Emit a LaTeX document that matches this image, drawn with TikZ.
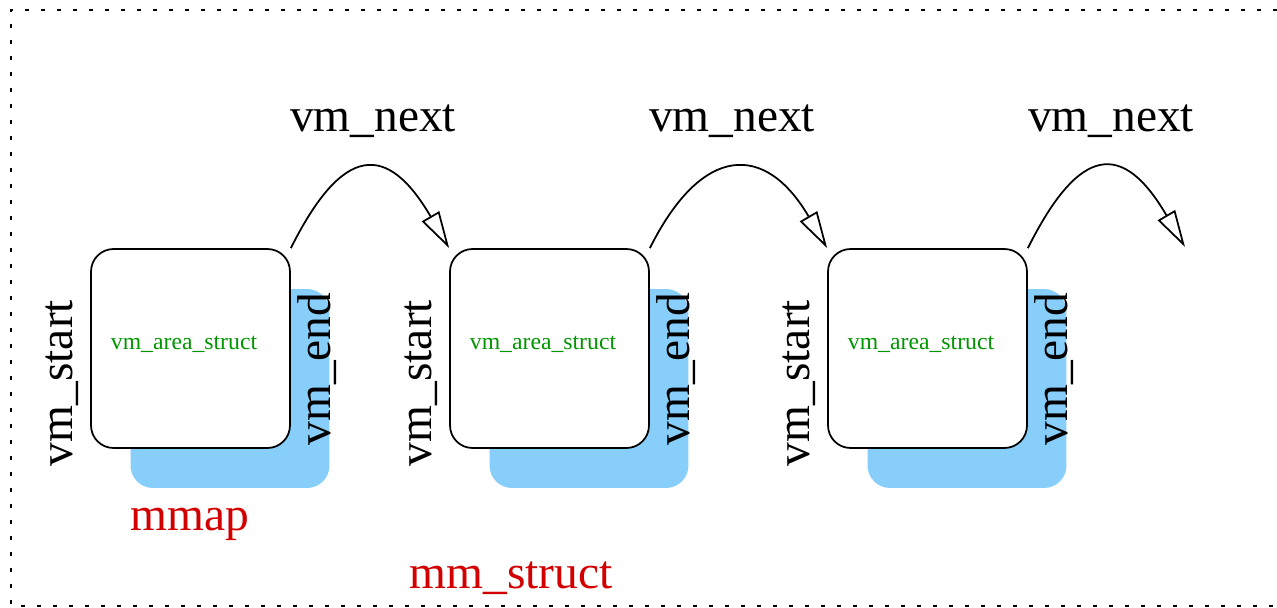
\documentclass[tikz,border=0pt]{standalone}
\usepackage{fontspec}
\setmainfont{Liberation Serif}
\usetikzlibrary{arrows.meta}
\definecolor{skyb}{RGB}{135,206,250}
\definecolor{fgreen}{RGB}{0,150,0}
\definecolor{fred}{RGB}{210,0,0}
\tikzset{
  whitebox/.style={draw=black, fill=white, line width=1pt, rounded corners=0.45cm,
    minimum width=3.98cm, minimum height=3.98cm, inner sep=0pt},
  bluebox/.style={fill=skyb, rounded corners=0.45cm,
    minimum width=3.98cm, minimum height=3.98cm, inner sep=0pt},
  big/.style={font=\fontsize{27}{30}\selectfont, inner sep=0pt, anchor=base},
  redlbl/.style={big, text=fred},
  rot/.style={big, rotate=90},
  greenlbl/.style={font=\fontsize{13.5}{15}\selectfont, text=fgreen, inner sep=0pt, anchor=base},
  nextarr/.style={line width=1pt, -{Triangle[open, length=0.74cm, width=0.4cm, line width=1pt]}},
  border/.style={line width=0.04cm, dash pattern=on 0.08cm off 0.24cm}
}
\begin{document}
\begin{tikzpicture}[x=0.02cm, y=-0.02cm]
\useasboundingbox (0,0) rectangle (1277,608);
\draw[border] (1277,10.5) -- (11,10.5) -- (11,606) -- (1277,606);
% blue shadows
\node[bluebox] (s1) at (230,388.5) {};
\node[bluebox] (s2) at (589,388.5) {};
\node[bluebox] (s3) at (967,388.5) {};
% white boxes
\node[whitebox] (b1) at (190.5,348.5) {};
\node[whitebox] (b2) at (549.5,348.5) {};
\node[whitebox] (b3) at (927.5,348.5) {};
% inner labels
\node[greenlbl] (t1) at (184,349) {vm\_area\_struct};
\node[greenlbl] (t2) at (543,349) {vm\_area\_struct};
\node[greenlbl] (t3) at (921,349) {vm\_area\_struct};
% side labels
\node[rot] (vs1) at (72,383) {vm\_start};
\node[rot] (vs2) at (431,383) {vm\_start};
\node[rot] (vs3) at (809,383) {vm\_start};
\node[rot] (ve1) at (330,369) {vm\_end};
\node[rot] (ve2) at (689,369) {vm\_end};
\node[rot] (ve3) at (1067,369) {vm\_end};
% vm_next labels
\node[big] (n1) at (373,132) {vm\_next};
\node[big] (n2) at (732,132) {vm\_next};
\node[big] (n3) at (1111,132) {vm\_next};
% red labels
\node[redlbl] (mmap) at (190,530) {mmap};
\node[redlbl] (mms) at (511,588) {mm\_struct};
% arrows
\coordinate (e3) at (1185,247);
\draw[nextarr] (b1.north east) .. controls +(52,-104) and +(-62,-106) .. (b2.north west);
\draw[nextarr] (b2.north east) .. controls +(52,-104) and +(-62,-106) .. (b3.north west);
\draw[nextarr] (b3.north east) .. controls +(52,-104) and +(-62,-106) .. (e3);
\end{tikzpicture}
\end{document}
